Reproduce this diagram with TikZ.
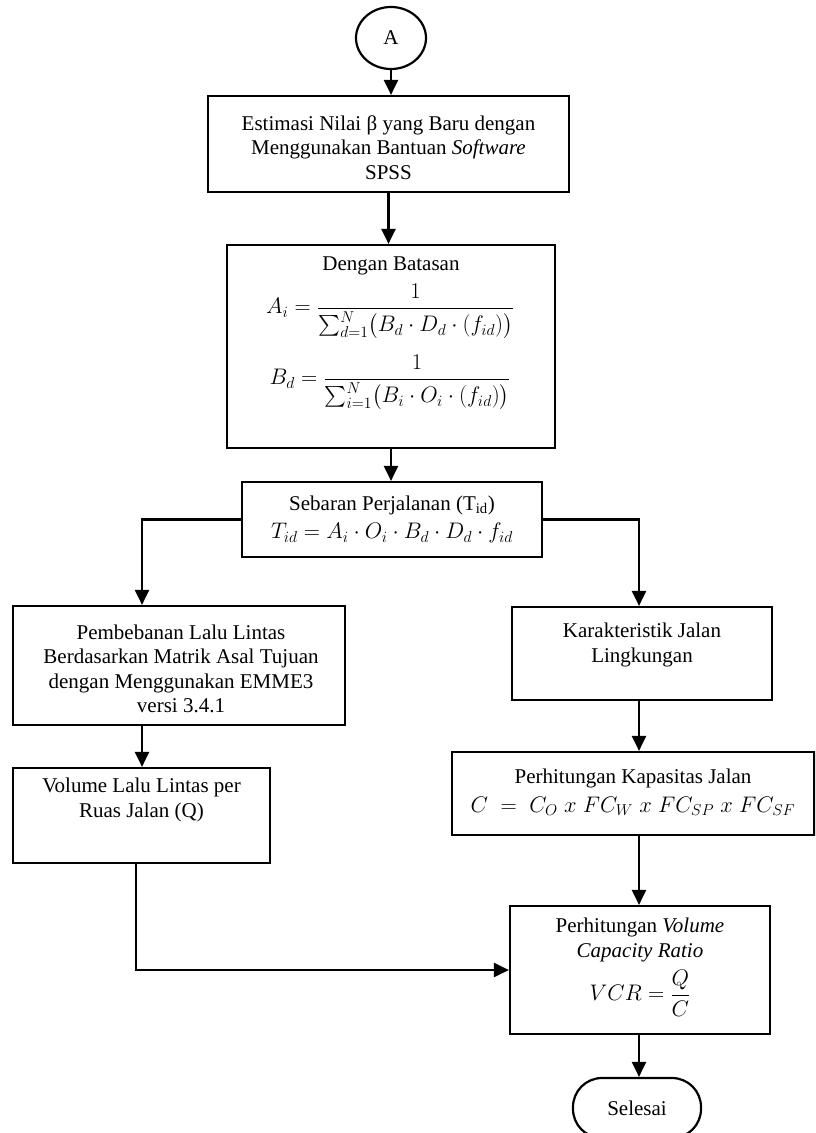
\RequirePackage{fix-cm}
\documentclass[tikz,border=0pt]{standalone}
\usepackage{amsmath}
\usepackage{fontspec}
\setmainfont{Liberation Serif}
\usetikzlibrary{arrows.meta,shapes.geometric}
\begin{document}
\begin{tikzpicture}[x=1pt,y=-1pt,
  box/.style={draw,line width=2.2pt,inner sep=0pt},
  txt/.style={align=center,inner sep=0pt,font=\fontsize{21}{24.5}\selectfont},
  mth/.style={align=center,inner sep=0pt,font=\fontsize{22.5}{26}\selectfont},
  arr/.style={line width=2.2pt,-{Triangle[length=15pt,width=14pt]}}]
\useasboundingbox (0,0) rectangle (815,1133);
\clip (0,0) rectangle (815,1133);
% nodes
\node[ellipse,draw,line width=2.2pt,minimum width=70pt,minimum height=62pt,inner sep=0pt,font=\fontsize{21}{24.5}\selectfont] (A) at (391,38) {A};

\node[box,minimum width=361pt,minimum height=96pt] (b1) at (388.5,144) {};
\node[txt] (t1) at (388.5,147.5) {Estimasi Nilai β yang Baru dengan\\Menggunakan Bantuan \textit{Software}\\SPSS};

\node[box,minimum width=328pt,minimum height=203pt] (b2) at (391,346.5) {};
\node[txt] (t2) at (391,266) {Dengan Batasan};
\node[mth] (f1) at (390,312) {$\displaystyle A_i=\frac{1}{\sum_{d=1}^{N}\bigl(B_d\cdot D_d\cdot(f_{id})\bigr)}$};
\node[mth] (f2) at (390,383) {$\displaystyle B_d=\frac{1}{\sum_{i=1}^{N}\bigl(B_i\cdot O_i\cdot(f_{id})\bigr)}$};

\node[box,minimum width=300pt,minimum height=75pt] (b3) at (392,519.5) {};
\node[txt] (t3) at (392,505) {Sebaran Perjalanan (T\textsubscript{id})};
\node[mth] (f4) at (392,533) {$T_{id}=A_i\cdot O_i\cdot B_d\cdot D_d\cdot f_{id}$};

\node[box,minimum width=332pt,minimum height=119pt] (b4) at (179,665.5) {};
\node[txt] (t4) at (181,669) {Pembebanan Lalu Lintas\\Berdasarkan Matrik Asal Tujuan\\dengan Menggunakan EMME3\\versi 3.4.1};

\node[box,minimum width=257pt,minimum height=95pt] (b5) at (141.5,815.5) {};
\node[txt] (t5) at (141.5,800) {Volume Lalu Lintas per\\Ruas Jalan (Q)};

\node[box,minimum width=260pt,minimum height=93pt] (b6) at (642,653.5) {};
\node[txt] (t6) at (642,645) {Karakteristik Jalan\\Lingkungan};

\node[box,minimum width=362.5pt,minimum height=83pt] (b7) at (633.25,793.5) {};
\node[txt] (t7) at (633,778) {Perhitungan Kapasitas Jalan};
\node[mth] (f5) at (633,806) {$C\;=\;C_O\;x\;FC_W\;x\;FC_{SP}\;x\;FC_{SF}$};

\node[box,minimum width=260pt,minimum height=128pt] (vcr) at (640,970) {};
\node[txt] (t8) at (640,940) {Perhitungan \textit{Volume}\\\textit{Capacity Ratio}};
\node[mth] (f3) at (640,993) {$\displaystyle VCR=\frac{Q}{C}$};

\node[draw,line width=2.2pt,rounded corners=29pt,minimum width=128pt,minimum height=60pt,inner sep=0pt,font=\fontsize{21}{24.5}\selectfont] (end) at (637,1108) {Selesai};

% coordinates
\coordinate (lx) at (142,0);
\coordinate (rx) at (639,0);
\coordinate (qx) at (136,0);

% connectors
\draw[arr] (A.south) -- (A.south |- b1.north);
\draw[arr] (b1.south) -- (b1.south |- b2.north);
\draw[arr] (b2.south) -- (b2.south |- b3.north);
\draw[arr] (b3.west) -| (lx |- b4.north);
\draw[arr] (b3.east) -| (rx |- b6.north);
\draw[arr] (lx |- b4.south) -- (lx |- b5.north);
\draw[arr] (rx |- b6.south) -- (rx |- b7.north);
\draw[arr] (rx |- b7.south) -- (rx |- vcr.north);
\draw[arr] (rx |- vcr.south) -- (rx |- end.north);
\draw[arr] (qx |- b5.south) |- (vcr.west);
\end{tikzpicture}
\end{document}
